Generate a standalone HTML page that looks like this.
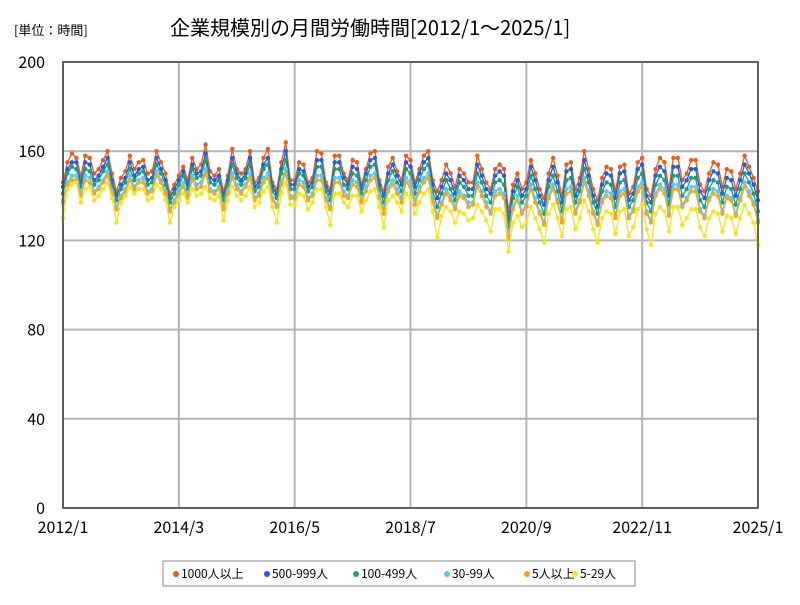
<!DOCTYPE html>
<html><head><meta charset="utf-8"><style>
body{margin:0;background:#fff;font-family:"Noto Sans CJK JP",sans-serif}
</style></head><body>
<svg id="c" width="800" height="600" xmlns="http://www.w3.org/2000/svg" font-family="Noto Sans CJK JP, sans-serif">
<rect width="800" height="600" fill="#fff"/>
<text x="14" y="35" font-size="13">[単位：時間]</text>
<text x="170" y="35" font-size="20">企業規模別の月間労働時間[2012/1～2025/1]</text>
<g id="grid"></g><g id="series"></g><g id="axes"></g>
<g id="legend"></g>
</svg>
<script>
const seriesNames=["1000人以上","500-999人","100-499人","30-99人","5人以上","5-29人"];
const colors=["#ee5a1c","#1e5ee0","#16a07c","#5cc6ee","#f0a626","#f8e41c"];
const yTicks=[0,40,80,120,160,200];
const xTickLabels=["2012/1","2014/3","2016/5","2018/7","2020/9","2022/11","2025/1"];
const xTickIdx=[0,26,52,78,104,130,156];
const s1000=[146,155,159,157,149,158,157,150,152,156,160,150,142,148,151,158,152,155,156,150,151,160,155,150,141,145,149,153,147,157,152,154,163,151,149,152,142,149,161,152,150,152,160,146,148,157,161,146,143,155,164,147,147,155,154,146,148,160,159,146,143,158,158,150,147,156,155,145,152,159,160,147,142,153,157,151,147,158,156,146,152,158,160,147,142,147,154,150,144,152,150,146,146,158,152,146,143,152,154,152,133,145,150,143,146,156,150,143,139,150,157,149,140,154,155,143,148,160,152,143,138,148,153,152,142,153,154,141,144,155,157,143,140,152,157,155,143,157,157,147,150,156,156,145,142,150,155,154,144,152,151,143,150,158,153,148,142];
const s500=[144,152,155,155,146,155,154,147,149,153,157,147,140,145,148,155,149,152,153,147,148,157,152,147,139,143,147,151,145,154,150,151,159,148,147,149,140,147,157,150,147,150,157,144,146,154,157,144,141,152,160,145,145,152,151,144,146,156,156,144,141,155,155,148,145,153,152,143,150,156,157,145,140,150,154,149,145,155,153,144,150,155,157,145,139,144,150,147,141,149,147,143,143,154,149,143,141,149,151,149,129,142,147,140,143,153,147,140,136,147,153,146,137,151,152,140,145,156,149,140,135,145,150,149,139,150,151,138,141,152,154,140,137,149,153,151,140,153,153,144,147,152,152,142,139,147,151,150,141,148,147,140,147,154,150,145,138];
const s100=[141,150,153,152,144,152,151,145,147,151,154,145,138,143,146,152,147,150,151,145,146,154,150,145,137,141,145,149,143,152,148,149,156,146,145,147,138,145,154,148,145,148,154,142,144,152,154,142,139,150,156,143,143,150,149,142,144,153,153,142,138,152,152,145,143,150,149,141,147,153,154,143,137,147,151,146,142,152,150,141,147,152,154,142,135,141,147,143,138,146,144,140,140,150,146,140,137,146,147,145,126,139,144,137,140,149,143,137,132,144,149,142,133,147,148,137,142,152,146,137,132,142,146,145,135,146,147,135,138,148,150,137,133,145,149,147,136,149,149,140,143,148,148,138,135,143,147,146,137,144,143,136,143,150,146,141,133];
const s30=[138,146,149,149,141,149,148,142,144,147,151,142,135,140,143,149,144,147,148,142,143,151,147,142,134,138,142,146,140,149,145,146,152,143,142,144,135,142,150,145,142,145,150,139,141,148,150,139,136,146,152,140,140,147,146,139,141,149,149,139,135,148,148,142,140,147,146,138,144,149,150,140,134,144,147,143,139,148,146,138,144,148,150,139,131,137,143,140,135,142,140,137,137,146,142,137,133,142,143,141,122,135,140,133,136,145,139,133,128,140,145,138,129,143,144,133,138,148,142,133,128,138,142,141,131,142,143,131,134,144,146,133,129,141,145,143,132,145,145,136,139,144,144,134,131,139,143,142,133,140,139,132,139,146,142,137,129];
const s5p=[137,145,147,147,140,147,146,141,143,146,149,141,134,139,142,147,143,146,146,141,142,149,146,141,133,137,141,144,139,147,143,144,150,142,141,143,134,141,148,143,141,144,148,138,140,146,148,138,135,145,150,139,139,145,144,138,140,147,147,138,134,146,146,140,139,145,144,137,142,147,148,139,132,142,145,141,137,146,144,136,142,146,148,137,130,136,141,138,134,140,139,135,136,144,140,135,132,140,141,139,121,134,138,132,135,143,137,132,127,139,143,137,128,141,142,132,137,146,140,132,127,137,140,139,130,140,141,130,133,142,144,132,128,140,143,141,131,143,143,135,138,142,142,133,130,138,141,140,132,139,138,131,138,144,140,136,128];
const s529=[130,143,145,146,137,143,144,138,140,143,146,139,128,137,140,144,141,143,143,138,139,145,143,138,128,135,138,141,137,143,140,141,144,139,138,140,129,138,144,140,138,140,144,135,137,142,144,135,128,141,146,136,136,141,140,134,137,143,143,135,127,141,141,137,135,140,140,133,138,142,143,135,126,138,140,137,133,141,139,132,137,141,143,133,121,131,135,133,128,133,132,129,130,136,133,129,124,134,134,132,115,128,131,126,128,135,130,125,119,132,136,130,122,134,135,125,130,138,133,125,119,130,133,132,123,133,134,122,126,134,136,125,118,132,135,133,124,135,135,127,130,134,134,126,122,130,133,132,124,131,130,123,130,136,132,128,118];
const allSeries=[s1000,s500,s100,s30,s5p,s529];
const NS="http://www.w3.org/2000/svg";
const X0=63,X1=758,Y0=508,Y1=62,nPts=157;
function xS(i){return X0+(X1-X0)*i/(nPts-1);}
function yS(v){return Y0-(Y0-Y1)*v/200;}
function mk(t,a,p){const e=document.createElementNS(NS,t);for(const k in a)e.setAttribute(k,a[k]);p.appendChild(e);return e;}
const grid=document.getElementById('grid'),ax=document.getElementById('axes'),sg=document.getElementById('series'),lg=document.getElementById('legend');
yTicks.forEach(v=>{
 const l=mk('line',{x1:X0,x2:X1,y1:yS(v),y2:yS(v),stroke:'#b4b4b4','stroke-width':2},grid);
 
 
 const t=mk('text',{x:X0-18,y:yS(v)+6,'font-size':16,'text-anchor':'end'},ax);t.textContent=v;
 
 
});
xTickIdx.forEach((i,k)=>{
 const l=mk('line',{x1:xS(i),x2:xS(i),y1:Y1,y2:Y0,stroke:'#b4b4b4','stroke-width':2},grid);
 
 
 const t=mk('text',{x:xS(i),y:Y0+25,'font-size':16,'text-anchor':'middle'},ax);t.textContent=xTickLabels[k];
 
 
});
const fr=mk('rect',{x:X0,y:Y1,width:X1-X0,height:Y0-Y1,fill:'none',stroke:'#444','stroke-width':1.5},ax);


allSeries.forEach((s,k)=>{
 const g=mk('g',{},sg);
 
 
 mk('polyline',{points:s.map((v,i)=>xS(i)+','+yS(v)).join(' '),fill:'none',stroke:colors[k],'stroke-width':1.3},g);
 s.forEach((v,i)=>{const c=mk('circle',{cx:xS(i),cy:yS(v),r:2.2,fill:colors[k]},g);
  
  });
});
mk('rect',{x:163,y:561,width:472,height:25,fill:'#fff',stroke:'#888'},lg);
const lx=[171,262,351,442,522,570];
seriesNames.forEach((n,k)=>{
 const e=mk('g',{},lg);
 
 
 mk('circle',{cx:lx[k]+5,cy:574,r:3,fill:colors[k]},e);
 const t=mk('text',{x:lx[k]+10,y:578,'font-size':12},e);t.textContent=n;
});
</script>
</body></html>
